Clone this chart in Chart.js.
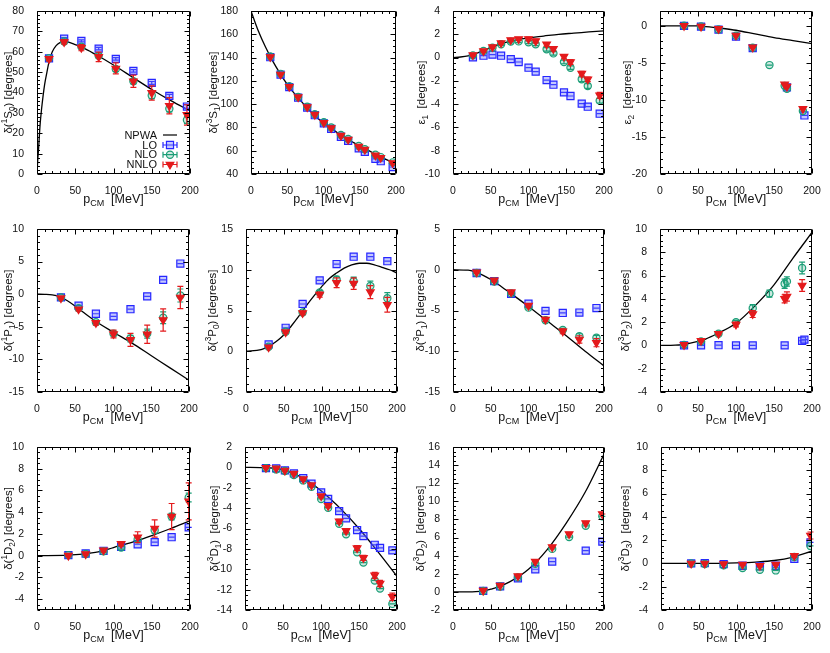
<!DOCTYPE html>
<html>
<head>
<meta charset="utf-8">
<script src="https://cdn.jsdelivr.net/npm/chart.js@4.4.1/dist/chart.umd.min.js"></script>
<style>
  html, body { margin: 0; padding: 0; background: #fff; }
  #wrap { position: relative; width: 830px; height: 653px; overflow: hidden; }
  #wrap canvas { position: absolute; }
</style>
</head>
<body>
<div id="wrap"></div>
<script>
// ---- data (p_CM in MeV, phases in degrees) ----
const xTicks = [0, 50, 100, 150, 200];

// 1S0
const s1s0X = [15.7, 35.5, 58, 80.6, 103, 126, 150, 173, 196];
const s1s0Lo = [56.8, 66.4, 65.3, 61.5, 56.5, 50.6, 44.7, 38.3, 33.1];
const s1s0LoErr = [0.5, 0.5, 0.5, 0.6, 0.6, 0.6, 0.7, 0.8, 0.9];
const s1s0Nlo = [56.8, 65, 62.5, 58, 51.5, 45.5, 38.5, 32, 26.5];
const s1s0NloErr = [0.6, 0.6, 0.8, 1, 1.2, 1.3, 1.5, 1.5, 1.8];
const s1s0Nnlo = [56.5, 64.8, 62, 57.5, 51.8, 45.5, 39.8, 33.5, 29];
const s1s0NnloErr = [1, 1, 1.5, 2.3, 2.7, 3, 3.5, 4, 5];
const s1s0CurveP = [0, 1, 2, 4, 6, 8, 10, 13, 16, 20, 25, 30, 35, 40, 50, 60, 75, 100, 125, 150, 175, 200];
const s1s0Curve = [0, 7, 12, 24, 32, 38.5, 44, 50, 55.5, 60, 63, 64.5, 65, 64.8, 63.5, 62, 59, 53.5, 47.5, 41.5, 36, 31];

// 3S1
const s3s1X = [26.6, 40.8, 52.8, 65, 77.5, 88, 100.5, 110.6, 124, 134, 148.6, 157, 171.6, 179, 195.4];
const s3s1Lo = [140.3, 125.3, 114.7, 105.5, 97, 90.5, 83.5, 78.8, 72, 68.5, 62, 59, 53, 51, 46];
const s3s1Nlo = [141, 126, 115.5, 106.2, 97.8, 91.3, 84.5, 80, 73.5, 70, 64, 61.3, 56.5, 54.5, 50];
const s3s1Nnlo = [140.5, 125.5, 115, 106, 97.5, 91, 84, 79.5, 73, 69.5, 63.5, 61, 56, 54, 49.5];
const s3s1CurveP = [0, 10, 20, 30, 40, 50, 60, 75, 90, 100, 110, 125, 140, 150, 160, 175, 190, 200];
const s3s1Curve = [180, 163, 149, 137, 126.5, 117, 109, 98.5, 89, 84, 79.5, 73, 67.5, 64, 61, 56, 51.5, 49.5];

// eps1
const e1X = [26.4, 40.4, 52.3, 63.7, 76.5, 87, 100, 109.5, 124, 133, 147, 155.6, 170.5, 178.5, 194.3];
const e1Lo = [0.02, 0.16, 0.25, 0.16, -0.13, -0.38, -0.87, -1.21, -1.93, -2.33, -2.99, -3.3, -3.96, -4.22, -4.82];
const e1Nlo = [0.19, 0.56, 0.85, 1.14, 1.37, 1.39, 1.31, 1.14, 0.71, 0.36, -0.38, -0.87, -1.87, -2.44, -3.7];
const e1NloErr = [0.1, 0.1, 0.1, 0.1, 0.1, 0.1, 0.12, 0.12, 0.15, 0.15, 0.15, 0.15, 0.2, 0.2, 0.2];
const e1Nnlo = [0.22, 0.56, 0.91, 1.25, 1.51, 1.6, 1.6, 1.42, 1.14, 0.76, 0.08, -0.38, -1.38, -1.87, -3.24];
const e1NnloErr = [0.1, 0.1, 0.1, 0.1, 0.12, 0.12, 0.15, 0.15, 0.15, 0.18, 0.18, 0.2, 0.2, 0.2, 0.25];
const e1CurveP = [0, 10, 20, 30, 40, 50, 60, 70, 80, 90, 100, 120, 140, 160, 180, 200];
const e1Curve = [0, 0.05, 0.15, 0.35, 0.6, 0.85, 1.1, 1.3, 1.45, 1.6, 1.7, 1.85, 2.0, 2.1, 2.2, 2.3];

// eps2
const e2X = [31.6, 54, 77, 100, 122, 144, 164, 167, 188, 190];
const e2Lo = [0, -0.1, -0.5, -1.45, -3.0, null, null, -8.3, null, -12.1];
const e2Nlo = [0, -0.1, -0.5, -1.35, -2.95, -5.3, -8.1, -8.5, -11.5, null];
const e2Nnlo = [0, -0.1, -0.4, -1.3, -2.9, null, -7.9, -8.2, -11.2, null];
const e2CurveP = [0, 25, 50, 60, 70, 80, 100, 125, 150, 175, 200];
const e2Curve = [0, 0, -0.02, -0.1, -0.2, -0.32, -0.6, -1.1, -1.6, -2.0, -2.4];

// 1P1
const s1p1X = [31.5, 54.7, 77.5, 100.7, 123, 145, 166, 188.6];
const s1p1Lo = [-0.48, -1.76, -3.0, -3.4, -2.3, -0.33, 2.2, 4.7];
const s1p1Nlo = [-0.5, -2.15, -4.3, -6.05, -6.8, -6.05, -3.6, -0.2];
const s1p1NloErr = [0.1, 0.15, 0.25, 0.35, 0.5, 0.7, 0.9, 1.0];
const s1p1Nnlo = [-0.6, -2.3, -4.4, -6.1, -7.0, -6.15, -3.95, -0.5];
const s1p1NnloErr = [0.15, 0.25, 0.35, 0.6, 1.0, 1.4, 1.7, 1.7];
const s1p1CurveP = [0, 10, 20, 30, 40, 50, 60, 75, 100, 125, 150, 175, 200];
const s1p1Curve = [0, -0.02, -0.1, -0.4, -1.0, -1.8, -2.7, -4.0, -5.8, -7.5, -9.4, -11.3, -13.2];

// 3P0
const s3p0X = [30, 52.5, 75, 97.6, 120, 142.6, 164.7, 187.2];
const s3p0Lo = [0.84, 2.88, 5.8, 8.7, 10.7, 11.6, 11.6, 11.05];
const s3p0Nlo = [0.55, 2.4, 4.75, 7.2, 8.8, 8.6, 8.0, 6.5];
const s3p0NloErr = [0.1, 0.1, 0.15, 0.25, 0.4, 0.5, 0.6, 0.7];
const s3p0Nnlo = [0.5, 2.35, 4.7, 6.95, 8.4, 8.3, 7.25, 5.7];
const s3p0NnloErr = [0.1, 0.15, 0.2, 0.3, 0.6, 0.7, 0.8, 0.9];
const s3p0CurveP = [0, 20, 30, 40, 50, 60, 70, 80, 90, 100, 110, 120, 130, 140, 150, 160, 170, 180, 190, 200];
const s3p0Curve = [0, 0.2, 0.6, 1.2, 2.0, 3.1, 4.3, 5.6, 6.8, 7.9, 8.9, 9.6, 10.2, 10.6, 10.8, 10.8, 10.6, 10.3, 10.0, 9.6];

// 3P1
const s3p1X = [31.3, 54.6, 77, 100, 122.5, 145.4, 167.4, 190];
const s3p1Lo = [-0.4, -1.4, -2.95, -4.15, -5.05, -5.3, -5.25, -4.7];
const s3p1Nlo = [-0.4, -1.45, -2.9, -4.65, -6.2, -7.4, -8.15, -8.35];
const s3p1NloErr = [0.05, 0.1, 0.1, 0.15, 0.2, 0.2, 0.3, 0.3];
const s3p1Nnlo = [-0.3, -1.3, -2.75, -4.4, -6.1, -7.55, -8.55, -8.95];
const s3p1NnloErr = [0.1, 0.15, 0.2, 0.2, 0.25, 0.3, 0.45, 0.5];
const s3p1CurveP = [0, 20, 30, 40, 50, 60, 75, 100, 125, 150, 175, 200];
const s3p1Curve = [0, -0.05, -0.3, -0.7, -1.2, -1.8, -2.8, -4.5, -6.3, -8.1, -10.0, -11.8];

// 3P2
const s3p2X = [31.6, 54, 77, 100, 122, 144, 164, 167, 187, 190];
const s3p2Lo = [0, 0, 0.02, 0, 0, null, 0, null, 0.4, 0.5];
const s3p2Nlo = [0.05, 0.35, 1.0, 2.0, 3.2, 4.45, 5.3, 5.5, 6.65, null];
const s3p2NloErr = [0.05, 0.05, 0.1, 0.15, 0.3, 0.3, 0.4, 0.4, 0.5, 0];
const s3p2Nnlo = [0.05, 0.4, 1.0, 1.8, 2.7, null, 4.0, 4.2, 5.15, null];
const s3p2NnloErr = [0.05, 0.05, 0.1, 0.2, 0.3, 0, 0.35, 0.4, 0.5, 0];
const s3p2CurveP = [0, 20, 30, 40, 50, 60, 75, 100, 125, 150, 175, 200];
const s3p2Curve = [0, 0.02, 0.08, 0.2, 0.35, 0.55, 1.0, 1.9, 3.4, 5.2, 7.5, 9.7];

// 1D2
const s1d2X = [41, 63.6, 87, 110, 131.6, 153.8, 176, 198.3];
const s1d2Lo = [0.05, 0.2, 0.45, 0.8, 1.05, 1.25, 1.7, 2.6];
const s1d2Nlo = [0.05, 0.15, 0.4, 0.75, 1.5, 2.35, 3.6, 5.35];
const s1d2NloErr = [0.05, 0.05, 0.1, 0.15, 0.2, 0.3, 0.3, 0.4];
const s1d2Nnlo = [0, 0.15, 0.5, 1.1, 1.7, 2.5, 3.6, 5.0];
const s1d2NnloErr = [0.1, 0.1, 0.15, 0.2, 0.5, 0.8, 1.2, 1.7];
const s1d2CurveP = [0, 40, 60, 80, 100, 125, 150, 175, 200];
const s1d2Curve = [0, 0.05, 0.15, 0.35, 0.75, 1.25, 1.85, 2.5, 3.2];

// 3D1
const s3d1X = [27.6, 41, 52.5, 64.3, 76.6, 87.5, 100.2, 109.4, 123.9, 133, 147.5, 155.8, 170.7, 177.7, 193.9];
const s3d1Lo = [-0.07, -0.1, -0.3, -0.6, -1.05, -1.6, -2.45, -3.1, -4.3, -5.0, -6.15, -6.75, -7.6, -7.9, -8.15];
const s3d1Nlo = [-0.07, -0.2, -0.36, -0.75, -1.28, -1.9, -3.1, -3.97, -5.54, -6.56, -8.33, -9.34, -11.1, -11.9, -13.4];
const s3d1Nnlo = [-0.03, -0.1, -0.3, -0.6, -1.15, -1.74, -2.82, -3.77, -5.3, -6.23, -7.93, -8.88, -10.6, -11.4, -12.7];
const s3d1NnloErr = [0.05, 0.05, 0.05, 0.08, 0.1, 0.1, 0.15, 0.15, 0.2, 0.2, 0.25, 0.25, 0.3, 0.3, 0.35];
const s3d1CurveP = [0, 20, 40, 50, 60, 75, 90, 100, 125, 150, 175, 200];
const s3d1Curve = [0, -0.02, -0.1, -0.25, -0.5, -1.0, -1.7, -2.3, -4.0, -6.0, -8.3, -10.7];

// 3D2
const s3d2X = [40, 62.4, 86, 109, 131.4, 153.8, 175.8, 197.8];
const s3d2Lo = [0.1, 0.6, 1.5, 2.5, 3.35, null, 4.55, 5.55];
const s3d2Nlo = [0.1, 0.6, 1.6, 3.1, 4.75, 6.05, 7.3, 8.35];
const s3d2Nnlo = [0.15, 0.7, 1.75, 3.35, 4.95, 6.4, 7.6, 8.6];
const s3d2CurveP = [0, 20, 30, 40, 50, 60, 75, 100, 125, 150, 175, 200];
const s3d2Curve = [0, 0, 0.02, 0.1, 0.3, 0.55, 1.1, 2.5, 4.7, 7.6, 11.0, 15.2];

// 3D3
const s3d3X = [40, 58, 83, 108, 131, 152, 176.6, 198];
const s3d3Lo = [0, 0.02, -0.05, -0.2, -0.25, -0.2, 0.4, 1.8];
const s3d3Nlo = [0, -0.05, -0.15, -0.4, -0.55, -0.6, 0.55, 1.5];
const s3d3Nnlo = [0, 0, -0.05, -0.1, -0.2, -0.1, 0.65, 2.4];
const s3d3NnloErr = [0, 0, 0, 0.05, 0.05, 0.05, 0.1, 0.3];
const s3d3CurveP = [0, 50, 75, 100, 125, 150, 175, 200];
const s3d3Curve = [0, 0, 0.01, 0.05, 0.12, 0.25, 0.55, 1.05];

// ---- styling ----
const FONT = '"Liberation Sans", Arial, Helvetica, sans-serif';
const STYLE = {
  LO:   { shape: 'rect', r: 5, rot: 0, color: '#2626ff', fill: 'rgba(100,110,255,0.38)' },
  NLO:  { shape: 'circle', r: 3.6, rot: 0, color: '#1b9e77', fill: 'rgba(27,158,119,0.22)' },
  NNLO: { shape: 'triangle', r: 4.4, rot: 180, color: '#e41a1c', fill: '#e41a1c' }
};
const colStart = [0, 205, 410, 615];

function deg(n, s) { return [['δ('], [n, 'sup'], [s[0]], [s[1], 'sub'], [') [degrees]']]; }

const panels = [
  { box: [37, 11, 190, 174], col: 0, tx: 8, title: deg('1', 'S0'), y: [0, 80, 10, 2],
    px: s1s0X, lo: s1s0Lo, loE: s1s0LoErr, nlo: s1s0Nlo, nloE: s1s0NloErr, nnlo: s1s0Nnlo, nnloE: s1s0NnloErr,
    cp: s1s0CurveP, cv: s1s0Curve, legend: true },
  { box: [251, 11, 396, 174], col: 1, tx: 213, title: deg('3', 'S1'), y: [40, 180, 20, 5],
    px: s3s1X, lo: s3s1Lo, nlo: s3s1Nlo, nnlo: s3s1Nnlo, cp: s3s1CurveP, cv: s3s1Curve },
  { box: [453, 11, 604, 174], col: 2, tx: 421, title: [['ε'], ['1', 'sub'], ['  [degrees]']], y: [-10, 4, 2, 0.5],
    px: e1X, lo: e1Lo, nlo: e1Nlo, nloE: e1NloErr, nnlo: e1Nnlo, nnloE: e1NnloErr, cp: e1CurveP, cv: e1Curve },
  { box: [660, 11, 812, 174], col: 3, tx: 627, title: [['ε'], ['2', 'sub'], ['  [degrees]']], y: [-20, 2, 5, 1], yTop: 0,
    px: e2X, lo: e2Lo, nlo: e2Nlo, nnlo: e2Nnlo, cp: e2CurveP, cv: e2Curve },
  { box: [37, 229, 189, 392], col: 0, tx: 7.5, title: deg('1', 'P1'), y: [-15, 10, 5, 1],
    px: s1p1X, lo: s1p1Lo, nlo: s1p1Nlo, nloE: s1p1NloErr, nnlo: s1p1Nnlo, nnloE: s1p1NnloErr, cp: s1p1CurveP, cv: s1p1Curve },
  { box: [246, 229, 397, 392], col: 1, tx: 212, title: deg('3', 'P0'), y: [-5, 15, 5, 1],
    px: s3p0X, lo: s3p0Lo, nlo: s3p0Nlo, nloE: s3p0NloErr, nnlo: s3p0Nnlo, nnloE: s3p0NnloErr, cp: s3p0CurveP, cv: s3p0Curve },
  { box: [453, 229, 604, 392], col: 2, tx: 420, title: deg('3', 'P1'), y: [-15, 5, 5, 1],
    px: s3p1X, lo: s3p1Lo, nlo: s3p1Nlo, nloE: s3p1NloErr, nnlo: s3p1Nnlo, nnloE: s3p1NnloErr, cp: s3p1CurveP, cv: s3p1Curve },
  { box: [660, 229, 812, 392], col: 3, tx: 625, title: deg('3', 'P2'), y: [-4, 10, 2, 0.5],
    px: s3p2X, lo: s3p2Lo, nlo: s3p2Nlo, nloE: s3p2NloErr, nnlo: s3p2Nnlo, nnloE: s3p2NnloErr, cp: s3p2CurveP, cv: s3p2Curve },
  { box: [37, 447, 190, 610], col: 0, tx: 7.5, title: deg('1', 'D2'), y: [-5, 10, 2, 0.5], yFirst: -4,
    px: s1d2X, lo: s1d2Lo, nlo: s1d2Nlo, nloE: s1d2NloErr, nnlo: s1d2Nnlo, nnloE: s1d2NnloErr, cp: s1d2CurveP, cv: s1d2Curve },
  { box: [245, 447, 397, 610], col: 1, tx: 214, title: [['δ('], ['3', 'sup'], ['D'], ['1', 'sub'], [')  [degrees]']], y: [-14, 2, 2, 0.5],
    px: s3d1X, lo: s3d1Lo, nlo: s3d1Nlo, nnlo: s3d1Nnlo, nnloE: s3d1NnloErr, cp: s3d1CurveP, cv: s3d1Curve },
  { box: [453, 447, 604, 610], col: 2, tx: 420, title: [['δ('], ['3', 'sup'], ['D'], ['2', 'sub'], [')  [degrees]']], y: [-2, 16, 2, 0.5],
    px: s3d2X, lo: s3d2Lo, nlo: s3d2Nlo, nnlo: s3d2Nnlo, cp: s3d2CurveP, cv: s3d2Curve },
  { box: [661, 447, 812, 610], col: 3, tx: 625, title: [['δ('], ['3', 'sup'], ['D'], ['3', 'sub'], [')  [degrees]']], y: [-4, 10, 2, 0.5],
    px: s3d3X, lo: s3d3Lo, nlo: s3d3Nlo, nnlo: s3d3Nnlo, nnloE: s3d3NnloErr, cp: s3d3CurveP, cv: s3d3Curve }
];

// ---- helpers ----
function series(kind, xs, ys, es) {
  const data = [], err = [];
  xs.forEach((x, i) => {
    if (ys[i] == null) return;
    data.push({ x: x, y: ys[i] });
    err.push(es && es[i] ? es[i] : 0);
  });
  const st = STYLE[kind];
  return {
    label: kind, data: data, err: err, errColor: st.color, showLine: false,
    pointStyle: st.shape, pointRadius: st.r, pointRotation: st.rot,
    pointBorderColor: st.color, pointBackgroundColor: st.fill, pointBorderWidth: 1.2
  };
}

function richWidth(ctx, parts, size) {
  let w = 0;
  parts.forEach(([t, k]) => {
    ctx.font = (k ? size * 0.72 : size) + 'px ' + FONT;
    w += ctx.measureText(t).width;
  });
  return w;
}

function drawRich(ctx, parts, x, y, size) {
  let cx = x;
  parts.forEach(([t, k]) => {
    const s = k ? size * 0.72 : size;
    ctx.font = s + 'px ' + FONT;
    const dy = k === 'sup' ? -size * 0.42 : (k === 'sub' ? size * 0.28 : 0);
    ctx.fillText(t, cx, y + dy);
    cx += ctx.measureText(t).width;
  });
}

function tickList(min, max, step, first) {
  const out = [];
  let v = first != null ? first : Math.ceil(min / step - 1e-9) * step;
  for (; v <= max + 1e-9; v += step) out.push(Math.round(v * 1000) / 1000);
  return out;
}

function marker(ctx, kind, x, y) {
  const st = STYLE[kind];
  ctx.fillStyle = st.fill;
  ctx.strokeStyle = st.color;
  ctx.lineWidth = 1.2;
  Chart.helpers.drawPoint(ctx, { pointStyle: st.shape, radius: st.r, rotation: st.rot, borderWidth: 1.2 }, x, y);
}

// error bars go under each series' markers
const errorBars = {
  id: 'errorBars',
  beforeDatasetDraw(chart, args) {
    const ds = chart.data.datasets[args.index];
    if (!ds.err) return;
    const ctx = chart.ctx, ys = chart.scales.y;
    ctx.save();
    ctx.strokeStyle = ds.errColor;
    ctx.lineWidth = 1.2;
    args.meta.data.forEach((pt, i) => {
      const v = ds.data[i].y, e = ds.err[i];
      const y1 = ys.getPixelForValue(v - e), y2 = ys.getPixelForValue(v + e);
      ctx.beginPath();
      ctx.moveTo(pt.x, y1); ctx.lineTo(pt.x, y2);
      ctx.moveTo(pt.x - 3, y1); ctx.lineTo(pt.x + 3, y1);
      ctx.moveTo(pt.x - 3, y2); ctx.lineTo(pt.x + 3, y2);
      ctx.stroke();
    });
    ctx.restore();
  }
};

// gnuplot style frame, inward ticks on all sides, titles and legend
const frame = {
  id: 'frame',
  afterDraw(chart) {
    const cfg = chart.options.plugins.frame;
    const { ctx, chartArea: a, scales: { x, y } } = chart;
    ctx.save();
    ctx.strokeStyle = '#000';
    ctx.lineWidth = 1;
    const L = Math.round(a.left) + 0.5, R = Math.round(a.right) - 0.5;
    const T = Math.round(a.top) + 0.5, B = Math.round(a.bottom) - 0.5;
    ctx.beginPath();
    ctx.rect(L, T, R - L, B - T);
    for (let v = 0; v <= 200; v += 10) {
      const px = Math.round(x.getPixelForValue(v)) + 0.5;
      const len = v % 50 === 0 ? 5 : 2.5;
      ctx.moveTo(px, B); ctx.lineTo(px, B - len);
      ctx.moveTo(px, T); ctx.lineTo(px, T + len);
    }
    const [ymin, ymax, , minor] = cfg.y;
    const majors = cfg.majors;
    for (let v = Math.ceil(ymin / minor - 1e-9) * minor; v <= ymax + 1e-9; v += minor) {
      const py = Math.round(y.getPixelForValue(v)) + 0.5;
      const isMajor = majors.some(m => Math.abs(m - v) < 1e-6);
      const len = isMajor ? 5 : 2.5;
      ctx.moveTo(L, py); ctx.lineTo(L + len, py);
      ctx.moveTo(R, py); ctx.lineTo(R - len, py);
    }
    ctx.stroke();

    ctx.fillStyle = '#111';
    ctx.textBaseline = 'alphabetic';
    ctx.textAlign = 'left';
    // x title
    const xParts = [['p'], ['CM', 'sub'], ['  [MeV]']];
    const xw = richWidth(ctx, xParts, 12.5);
    drawRich(ctx, xParts, (a.left + a.right) / 2 - xw / 2, a.bottom + 28.5, 12.5);
    // y title
    const yw = richWidth(ctx, cfg.title, 11.5);
    ctx.translate(cfg.tx + 4, (a.top + a.bottom) / 2);
    ctx.rotate(-Math.PI / 2);
    drawRich(ctx, cfg.title, -yw / 2, 0, 11.5);
    ctx.restore();

    if (cfg.legend) {
      const ox = cfg.ox, oy = cfg.oy;
      const rows = [['NPWA', null, 135], ['LO', 'LO', 145], ['NLO', 'NLO', 154.7], ['NNLO', 'NNLO', 164.5]];
      ctx.save();
      ctx.font = '11px ' + FONT;
      ctx.textAlign = 'right';
      ctx.textBaseline = 'middle';
      rows.forEach(([label, kind, ry]) => {
        const yy = ry - oy;
        ctx.fillStyle = '#111';
        ctx.fillText(label, 157 - ox, yy + 0.5);
        const x1 = 163 - ox, x2 = 177 - ox;
        if (!kind) {
          ctx.strokeStyle = '#000'; ctx.lineWidth = 1.2;
          ctx.beginPath(); ctx.moveTo(x1, yy); ctx.lineTo(x2, yy); ctx.stroke();
          return;
        }
        const c = STYLE[kind].color;
        ctx.strokeStyle = c; ctx.lineWidth = 1.2;
        ctx.beginPath();
        ctx.moveTo(x1, yy); ctx.lineTo(x2, yy);
        ctx.moveTo(x1, yy - 3); ctx.lineTo(x1, yy + 3);
        ctx.moveTo(x2, yy - 3); ctx.lineTo(x2, yy + 3);
        ctx.stroke();
        marker(ctx, kind, (x1 + x2) / 2, yy);
      });
      ctx.restore();
    }
  }
};

// ---- build the twelve panels ----
const wrap = document.getElementById('wrap');
const PAD_TOP = 10, PAD_RIGHT = 14, X_AXIS_H = 42;

panels.forEach(p => {
  const [pl, pt, pr, pb] = p.box;
  const left = colStart[p.col];
  const yAxisW = pl - left;
  const canvas = document.createElement('canvas');
  const w = pr - left + PAD_RIGHT, h = (pb - pt) + PAD_TOP + X_AXIS_H;
  canvas.width = w; canvas.height = h;
  canvas.style.left = left + 'px';
  canvas.style.top = (pt - PAD_TOP) + 'px';
  canvas.style.width = w + 'px';
  canvas.style.height = h + 'px';
  wrap.appendChild(canvas);

  const [ymin, ymax, ystep] = p.y;
  const yMajors = tickList(ymin, p.yTop != null ? p.yTop : ymax, ystep, p.yFirst);

  const curve = {
    label: 'NPWA',
    data: p.cp.map((v, i) => ({ x: v, y: p.cv[i] })),
    showLine: true, pointRadius: 0, borderColor: '#000', borderWidth: 1.3,
    cubicInterpolationMode: 'monotone', fill: false
  };

  new Chart(canvas, {
    type: 'scatter',
    data: {
      datasets: [
        series('NNLO', p.px, p.nnlo, p.nnloE),
        series('NLO', p.px, p.nlo, p.nloE),
        series('LO', p.px, p.lo, p.loE),
        curve
      ]
    },
    options: {
      responsive: false,
      animation: false,
      devicePixelRatio: 1,
      events: [],
      layout: { padding: { top: PAD_TOP, right: PAD_RIGHT, left: 0, bottom: 0 } },
      plugins: {
        legend: { display: false },
        tooltip: { enabled: false },
        frame: { y: p.y, majors: yMajors, title: p.title, tx: p.tx - left, legend: !!p.legend, ox: left, oy: pt - PAD_TOP }
      },
      scales: {
        x: {
          type: 'linear', min: 0, max: 200,
          grid: { display: false }, border: { display: false },
          afterBuildTicks: s => { s.ticks = xTicks.map(v => ({ value: v })); },
          afterFit: s => { s.height = X_AXIS_H; s.paddingLeft = 0; s.paddingRight = 0; },
          ticks: { font: { family: FONT, size: 10.5 }, color: '#111', padding: 3, maxRotation: 0, autoSkip: false,
                   callback: v => String(v) }
        },
        y: {
          type: 'linear', min: ymin, max: ymax,
          grid: { display: false }, border: { display: false },
          afterBuildTicks: s => { s.ticks = yMajors.map(v => ({ value: v })); },
          afterFit: s => { s.width = yAxisW; s.paddingTop = 0; s.paddingBottom = 0; },
          ticks: { font: { family: FONT, size: 10.5 }, color: '#111', padding: 5, autoSkip: false,
                   callback: v => String(v) }
        }
      }
    },
    plugins: [errorBars, frame]
  });
});
</script>
</body>
</html>
